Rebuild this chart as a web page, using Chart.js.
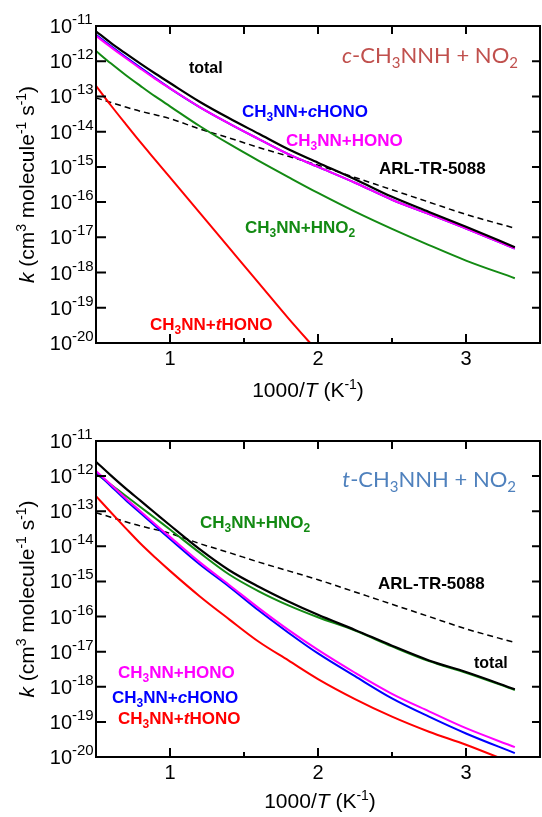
<!DOCTYPE html>
<html lang="en">
<head>
<meta charset="UTF-8">
<title>CH3NNH + NO2 rate constants</title>
<script src="https://cdn.jsdelivr.net/npm/chart.js@4"></script>
<style>
  html, body { margin: 0; padding: 0; background: #fff; }
  canvas { display: block; }
</style>
</head>
<body>
<canvas id="cisChart" width="542" height="410"></canvas>
<canvas id="transChart" width="542" height="407"></canvas>
<script>
// 1000/T (K^-1)
const invT = [0.5, 0.6, 0.7, 0.8, 0.9, 1.0, 1.2, 1.4, 1.6, 1.8, 2.0, 2.25, 2.5, 2.75, 3.0, 3.33];

// c-CH3NNH + NO2, k in cm3 molecule-1 s-1
const cisTotal = [7.08e-12, 3.31e-12, 1.66e-12, 8.51e-13, 4.47e-13, 2.40e-13, 7.08e-14, 2.40e-14, 8.71e-15, 3.16e-15, 1.32e-15, 4.47e-16, 1.41e-16, 5.25e-17, 2.00e-17, 5.25e-18];
const cisHONO = [5.25e-12, 2.51e-12, 1.23e-12, 6.17e-13, 3.16e-13, 1.70e-13, 5.01e-14, 1.70e-14, 6.17e-15, 2.29e-15, 1.00e-15, 3.55e-16, 1.17e-16, 4.57e-17, 1.78e-17, 4.79e-18];
const cisCHONO = [5.62e-12, 2.69e-12, 1.32e-12, 6.61e-13, 3.31e-13, 1.70e-13, 5.01e-14, 1.70e-14, 6.17e-15, 2.29e-15, 1.00e-15, 3.55e-16, 1.17e-16, 4.57e-17, 1.78e-17, 4.79e-18];
const cisHNO2 = [1.95e-12, 8.71e-13, 4.07e-13, 2.00e-13, 1.00e-13, 5.25e-14, 1.45e-14, 4.47e-15, 1.48e-15, 5.13e-16, 1.82e-16, 5.37e-17, 1.74e-17, 6.03e-18, 2.19e-18, 6.92e-19];
const cisTHONO = [2.00e-13, 5.62e-14, 1.66e-14, 5.01e-15, 1.58e-15, 5.01e-16, 5.01e-17, 5.01e-18, 5.01e-19, 5.01e-20, 5.62e-21, null, null, null, null, null];

// t-CH3NNH + NO2
const transTotal = [2.57e-12, 1.05e-12, 4.47e-13, 2.00e-13, 8.91e-14, 3.98e-14, 8.32e-15, 2.09e-15, 7.08e-16, 2.69e-16, 1.12e-16, 4.17e-17, 1.48e-17, 5.62e-18, 2.63e-18, 8.51e-19];
const transHNO2 = [1.17e-12, 5.75e-13, 2.75e-13, 1.32e-13, 6.31e-14, 3.02e-14, 6.61e-15, 1.58e-15, 5.25e-16, 2.09e-16, 9.55e-17, 3.98e-17, 1.41e-17, 5.37e-18, 2.51e-18, 8.13e-19];
const transHONO = [1.41e-12, 5.75e-13, 2.34e-13, 1.00e-13, 4.27e-14, 1.86e-14, 3.55e-15, 7.94e-16, 1.74e-16, 4.17e-17, 1.12e-17, 2.51e-18, 6.31e-19, 2.00e-19, 6.61e-20, 1.91e-20];
const transCHONO = [1.32e-12, 5.25e-13, 2.09e-13, 8.91e-14, 3.80e-14, 1.62e-14, 3.09e-15, 7.08e-16, 1.48e-16, 3.47e-17, 8.91e-18, 2.00e-18, 4.68e-19, 1.41e-19, 4.68e-20, 1.29e-20];
const transTHONO = [2.69e-13, 9.33e-14, 3.31e-14, 1.20e-14, 4.79e-15, 2.00e-15, 3.80e-16, 8.32e-17, 1.91e-17, 5.62e-18, 1.66e-18, 4.47e-19, 1.41e-19, 5.25e-20, 2.24e-20, 6.31e-21];

// ARL-TR-5088 (same in both panels)
const arl = [9.12e-14, 6.76e-14, 5.01e-14, 3.80e-14, 3.02e-14, 2.34e-14, 1.20e-14, 6.61e-15, 3.55e-15, 2.00e-15, 1.12e-15, 5.01e-16, 2.24e-16, 1.00e-16, 4.47e-17, 1.82e-17];

// ticks
const xTicks = [1, 1.5, 2, 2.5, 3];
const xTickLabels = ['1', '', '2', '', '3'];
const yTicks = [1e-11, 1e-12, 1e-13, 1e-14, 1e-15, 1e-16, 1e-17, 1e-18, 1e-19, 1e-20];
const yTickExp = ['-11', '-12', '-13', '-14', '-15', '-16', '-17', '-18', '-19', '-20'];

const ARIAL = '"Liberation Sans", Arial, sans-serif';
const T = t => ({ t });
const sub = t => ({ t, sub: true });
const sup = t => ({ t, sup: true });
const it = t => ({ t, it: true });

// draw a line of text with sub/superscripts and italics
function richText(ctx, segs, x, y, o) {
    const small = Math.round(o.size * 0.68);
    const fontOf = s => `${s.it ? 'italic ' : ''}${o.weight || 'normal'} ${s.sub || s.sup ? small : o.size}px ${o.family || ARIAL}`;
    let w = 0;
    segs.forEach(s => { ctx.font = fontOf(s); w += ctx.measureText(s.t).width; });
    let cx = o.align === 'right' ? x - w : o.align === 'center' ? x - w / 2 : x;
    ctx.fillStyle = o.color || '#000';
    ctx.textAlign = 'left';
    ctx.textBaseline = 'alphabetic';
    segs.forEach(s => {
        ctx.font = fontOf(s);
        const dy = s.sub ? o.size * 0.22 : s.sup ? -o.size * 0.4 : 0;
        ctx.fillText(s.t, cx, y + dy);
        cx += ctx.measureText(s.t).width;
    });
}

// frame, inward ticks, labels, titles and notes
const frame = {
    id: 'frame',
    afterDraw(chart, args, opts) {
        const { ctx, chartArea: a, scales: { x, y } } = chart;
        ctx.save();
        ctx.strokeStyle = '#000';
        ctx.lineWidth = 2;
        ctx.strokeRect(a.left, a.top, a.right - a.left, a.bottom - a.top);
        ctx.beginPath();
        xTicks.forEach((v, i) => {
            const px = x.getPixelForValue(v);
            const len = xTickLabels[i] ? 9 : 5;
            ctx.moveTo(px, a.bottom); ctx.lineTo(px, a.bottom - len);
            ctx.moveTo(px, a.top); ctx.lineTo(px, a.top + 8);
        });
        yTicks.forEach(v => {
            const py = y.getPixelForValue(v);
            ctx.moveTo(a.left, py); ctx.lineTo(a.left + 10, py);
            ctx.moveTo(a.right, py); ctx.lineTo(a.right - 8, py);
        });
        ctx.stroke();

        ctx.fillStyle = '#000';
        ctx.textBaseline = 'alphabetic';
        xTicks.forEach((v, i) => {
            if (!xTickLabels[i]) return;
            ctx.font = '20px ' + ARIAL;
            ctx.textAlign = 'center';
            ctx.fillText(xTickLabels[i], x.getPixelForValue(v), a.bottom + 22);
        });
        yTicks.forEach((v, i) => {
            const py = y.getPixelForValue(v);
            ctx.font = '20px ' + ARIAL;
            ctx.textAlign = 'right';
            ctx.fillText('10', 72, py + 7);
            ctx.font = '15px ' + ARIAL;
            ctx.textAlign = 'left';
            ctx.fillText(yTickExp[i], 72, py - 2);
        });

        richText(ctx, [T('1000/'), it('T'), T(' (K'), sup('-1'), T(')')],
            opts.xTitleX, a.bottom + opts.xTitleDy, { size: 21, align: 'center' });
        ctx.save();
        ctx.translate(34, (a.top + a.bottom) / 2);
        ctx.rotate(-Math.PI / 2);
        richText(ctx, [it('k'), T(' (cm'), sup('3'), T(' molecule'), sup('-1'), T(' s'), sup('-1'), T(')')],
            0, 0, { size: 21, align: 'center' });
        ctx.restore();

        opts.notes.forEach(n => {
            const px = x.getPixelForValue(n.x);
            const py = y.getPixelForValue(n.y) + n.size * 0.36;
            richText(ctx, n.segs, px, py, n);
        });
        ctx.restore();
    }
};

function line(vals, color, extra) {
    return Object.assign({
        data: invT.map((v, i) => ({ x: v, y: vals[i] })),
        borderColor: color,
        borderWidth: 2,
        pointRadius: 0,
        fill: false,
        cubicInterpolationMode: 'monotone'
    }, extra || {});
}

function makeChart(id, datasets, pad, frameOpts) {
    return new Chart(document.getElementById(id), {
        type: 'line',
        data: { datasets },
        options: {
            responsive: false,
            animation: false,
            devicePixelRatio: 1,
            layout: { padding: pad },
            plugins: { legend: { display: false }, tooltip: { enabled: false }, frame: frameOpts },
            scales: {
                x: { type: 'linear', min: 0.5, max: 3.5, display: false },
                y: { type: 'logarithmic', min: 1e-20, max: 1e-11, display: false }
            }
        },
        plugins: [frame]
    });
}

const GREEN = '#138a13';
const BOLD = { size: 17, weight: 'bold' };

makeChart('cisChart', [
    line(cisTotal, '#000', { borderWidth: 2.2 }),
    line(cisHONO, '#ff00ff'),
    line(cisCHONO, '#0000ff'),
    line(cisHNO2, GREEN),
    line(cisTHONO, '#ff0000'),
    line(arl, '#000', { borderWidth: 1.5, borderDash: [6, 4] })
], { left: 96, top: 26, right: 2, bottom: 67 }, {
    xTitleX: 308, xTitleDy: 54,
    notes: [
        { segs: [it('c'), T('-CH'), sub('3'), T('NNH + NO'), sub('2')], x: 3.351, y: 1.5e-12, align: 'right', size: 22, family: 'Lato', color: '#c0504d' },
        { segs: [T('total')], x: 1.128, y: 6.9e-13, size: 16, weight: 'bold' },
        Object.assign({ segs: [T('CH'), sub('3'), T('NN+'), it('c'), T('HONO')], x: 1.486, y: 3.9e-14, color: '#0000ff' }, BOLD),
        Object.assign({ segs: [T('CH'), sub('3'), T('NN+HONO')], x: 1.784, y: 5.75e-15, color: '#ff00ff' }, BOLD),
        Object.assign({ segs: [T('ARL-TR-5088')], x: 2.412, y: 9.3e-16, color: '#000' }, BOLD),
        Object.assign({ segs: [T('CH'), sub('3'), T('NN+HNO'), sub('2')], x: 1.507, y: 1.95e-17, color: GREEN }, BOLD),
        Object.assign({ segs: [T('CH'), sub('3'), T('NN+'), it('t'), T('HONO')], x: 0.865, y: 3.4e-20, color: '#ff0000' }, BOLD)
    ]
});

makeChart('transChart', [
    line(transTotal, '#000', { borderWidth: 2.2 }),
    line(transHONO, '#ff00ff'),
    line(transCHONO, '#0000ff'),
    line(transHNO2, GREEN),
    line(transTHONO, '#ff0000'),
    line(arl, '#000', { borderWidth: 1.5, borderDash: [6, 4] })
], { left: 96, top: 31, right: 2, bottom: 60 }, {
    xTitleX: 320, xTitleDy: 51,
    notes: [
        { segs: [it('t'), T('-CH'), sub('3'), T('NNH + NO'), sub('2')], x: 3.338, y: 8.3e-13, align: 'right', size: 22, family: 'Lato', color: '#4f81bd' },
        Object.assign({ segs: [T('CH'), sub('3'), T('NN+HNO'), sub('2')], x: 1.203, y: 4.9e-14, color: GREEN }, BOLD),
        Object.assign({ segs: [T('ARL-TR-5088')], x: 2.405, y: 8.9e-16, color: '#000' }, BOLD),
        { segs: [T('total')], x: 3.054, y: 5.0e-18, size: 16, weight: 'bold' },
        Object.assign({ segs: [T('CH'), sub('3'), T('NN+HONO')], x: 0.649, y: 2.6e-18, color: '#ff00ff' }, BOLD),
        Object.assign({ segs: [T('CH'), sub('3'), T('NN+'), it('c'), T('HONO')], x: 0.608, y: 5.0e-19, color: '#0000ff' }, BOLD),
        Object.assign({ segs: [T('CH'), sub('3'), T('NN+'), it('t'), T('HONO')], x: 0.649, y: 1.3e-19, color: '#ff0000' }, BOLD)
    ]
});
</script>
</body>
</html>
